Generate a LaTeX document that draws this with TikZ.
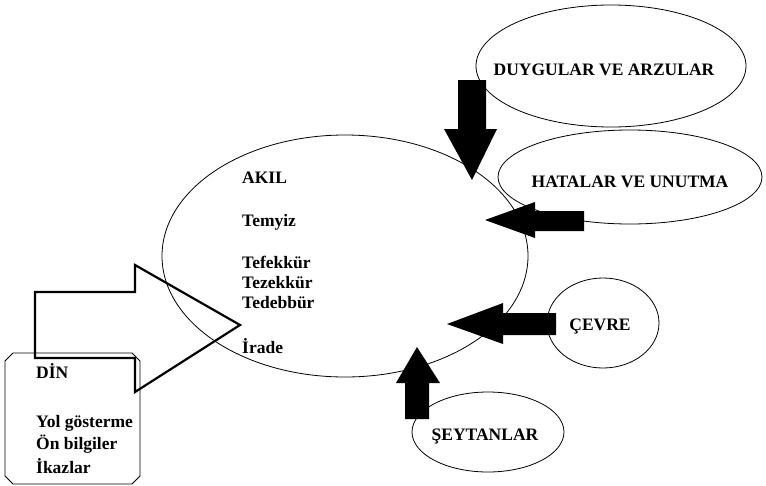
\documentclass[tikz,border=0pt]{standalone}
\usepackage{fontspec}
\setmainfont{Liberation Serif}
\usetikzlibrary{calc}
\usetikzlibrary{shapes.geometric}

\begin{document}
\begin{tikzpicture}[x=1pt,y=-1pt,
    oval/.style={draw,ellipse,inner sep=0pt,line width=0.8pt},
    txt/.style={font=\fontsize{17.5}{20}\selectfont\bfseries,anchor=base west,inner sep=0pt},
    ctxt/.style={font=\fontsize{17.5}{20}\selectfont\bfseries,anchor=base,inner sep=0pt}]
\useasboundingbox (0,0) rectangle (766,485);

\coordinate (akil) at (345,256);
\coordinate (duygu) at (611,66);
\coordinate (hata) at (630,177);
\coordinate (cevre) at (603,323);
\coordinate (seytan) at (488,432);

\newcommand{\drawoval}[4]{
    \node[oval,minimum width=#3pt,minimum height=#4pt] (#1E) at (#2) {};
}

\newcommand{\blackarrow}[1]{
    \fill[black] #1 -- cycle;
}

%ellipses
\drawoval{akil}{akil}{366}{242}
\drawoval{duygu}{duygu}{270}{122}
\drawoval{hata}{hata}{264}{94}
\drawoval{cevre}{cevre}{112}{90}
\drawoval{seytan}{seytan}{152}{80}

\node[ctxt] (duyguT) at (604,75) {DUYGULAR VE ARZULAR};
\node[ctxt] (hataT) at (630,187) {HATALAR VE UNUTMA};
\node[ctxt] (cevreT) at (600,330) {ÇEVRE};
\node[ctxt] (seytanT) at (485,440) {ŞEYTANLAR};

\node[txt] (akilT) at (242,183) {AKIL};
\node[txt] (temyiz) at (242,226) {Temyiz};
\node[txt] (tefekkur) at (242,268) {Tefekkür};
\node[txt] (tezekkur) at (242,288) {Tezekkür};
\node[txt] (tedebbur) at (242,308) {Tedebbür};
\node[txt] (irade) at (242,353) {İrade};

%filled arrows
\blackarrow{(458,80) -- (486,80) -- (486,129) -- (497,129) -- (472,180) -- (444,129) -- (458,129)}
\blackarrow{(584,211) -- (584,231) -- (535,231) -- (535,238) -- (485,220) -- (535,202) -- (535,211)}
\blackarrow{(556,313) -- (556,335) -- (503,335) -- (503,344) -- (447,324) -- (503,303) -- (503,313)}
\blackarrow{(405,419) -- (429,419) -- (429,383) -- (440,383) -- (417,347) -- (396,383) -- (405,383)}

%din box
\draw[line width=0.8pt] (13,353) -- (132,353) -- (140,361) -- (140,476) -- (132,484)
    -- (13,484) -- (5,476) -- (5,361) -- cycle;
\draw[line width=2.2pt,line join=miter] (35,292) -- (135,292) -- (135,265) -- (240,325)
    -- (135,392) -- (135,358) -- (35,358) -- cycle;

\node[txt] (din) at (36,378) {DİN};
\node[txt] (yol) at (36,427) {Yol gösterme};
\node[txt] (on) at (36,449) {Ön bilgiler};
\node[txt] (ikaz) at (36,473) {İkazlar};
\end{tikzpicture}
\end{document}
